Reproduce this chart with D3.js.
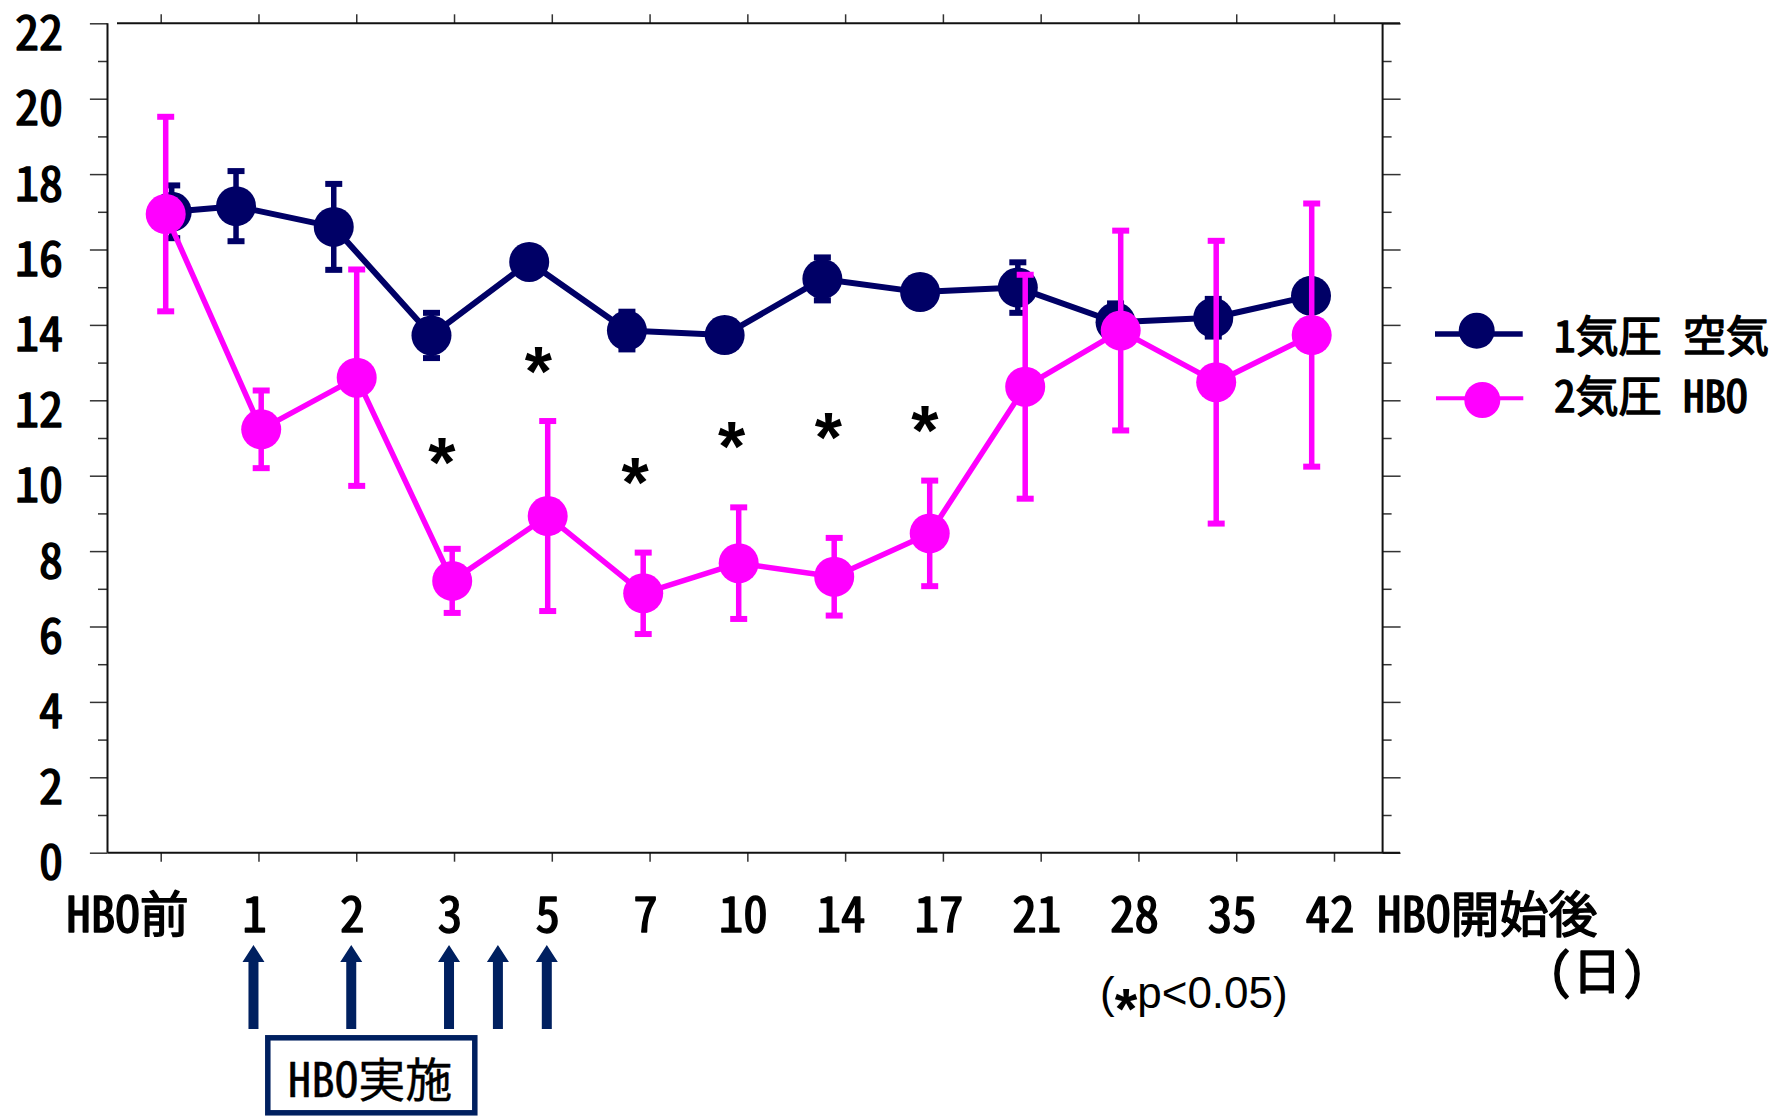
<!DOCTYPE html>
<html>
<head>
<meta charset="utf-8">
<script src="https://cdn.jsdelivr.net/npm/d3@7"></script>
<style>
  html, body { margin: 0; padding: 0; background: #fff; }
  svg { display: block; }
  .jp { font-family: "Noto Sans CJK JP", "Noto Sans CJK SC", sans-serif; font-feature-settings: "hwid" 1; fill: #000; font-weight: 400; stroke: #000; stroke-width: 1.5px; stroke-linejoin: round; }
  .jp.light { stroke-width: 0.4px; }
</style>
</head>
<body>
<svg id="chart" width="1777" height="1116"></svg>
<script>
// ---- data -------------------------------------------------------------
const categories = ["HBO前", "1", "2", "3", "5", "7", "10", "14", "17", "21", "28", "35", "42"];

// 1 atm air group: mean and SD
const airMean = [17.0, 17.15, 16.6, 13.72, 15.67, 13.85, 13.73, 15.22, 14.87, 14.99, 14.07, 14.19, 14.77];
const airSD   = [0.7, 0.93, 1.14, 0.6, 0.3, 0.5, 0.3, 0.57, 0.3, 0.67, 0.5, 0.5, 0.4];

// 2 atm HBO group: mean and SD
const hboMean = [16.94, 11.23, 12.6, 7.21, 8.93, 6.88, 7.68, 7.32, 8.47, 12.36, 13.85, 12.48, 13.73];
const hboSD   = [2.58, 1.03, 2.87, 0.85, 2.52, 1.08, 1.48, 1.03, 1.4, 2.97, 2.65, 3.75, 3.49];

const yTicks      = d3.range(0, 23, 2);
const yMinorTicks = d3.range(1, 22, 2);

// significant differences (*p<0.05) and the level where each star sits
const sigDays   = ["3", "5", "7", "10", "14", "17"];
const sigLevels = [10.76, 13.15, 10.23, 11.16, 11.4, 11.61];

// days on which HBO was given
const hboDays = [1, 2, 3, 4, 5];

const seriesNames = ["1気圧\u2002空気", "2気圧\u2002HBO"];
const seriesColors = ["#000066", "#ff00ff"];

// ---- scales -----------------------------------------------------------
const svg = d3.select("#chart");

const plot = { left: 107.5, right: 1382.6, top: 23.3, bottom: 852.7 };

const y = d3.scaleLinear().domain([0, 22]).range([plot.bottom, plot.top]);

// category ticks along the day axis
const xAxisScale = d3.scalePoint().domain(categories).range([160.7, 1334]);
// marker positions of each group
const xHbo = d3.scalePoint().domain(categories).range([165.7, 1311.7]);
const xAirBase = d3.scalePoint().domain(categories).range([138.3, 1311]);
// the pre-treatment air marker sits just behind the HBO marker
const xAir = (c, i) => i === 0 ? xHbo(c) + 6 : xAirBase(c);

// treatment days mapped onto the (non-uniform) day axis
const dayScale = d3.scaleLinear()
  .domain([1, 2, 3, 5])
  .range(["1", "2", "3", "5"].map(c => xAxisScale(c) - 5));

// ---- axes -------------------------------------------------------------
function styleTicks(g) {
  g.select(".domain").remove();
  g.selectAll(".tick line").attr("stroke", "#333").attr("stroke-width", 1.5);
}

// left axis: major ticks with labels
const leftMajor = svg.append("g")
  .attr("transform", `translate(${plot.left},0)`)
  .call(d3.axisLeft(y).tickValues(yTicks).tickSize(17.6).tickPadding(27).tickFormat(d3.format("d")));
styleTicks(leftMajor);
leftMajor.attr("font-family", null).attr("font-size", null);
leftMajor.selectAll(".tick text")
  .attr("class", "jp")
  .attr("dy", "0.54em")
  .style("font-size", "48px");

svg.append("g")
  .attr("transform", `translate(${plot.left},0)`)
  .call(d3.axisLeft(y).tickValues(yMinorTicks).tickSize(9.5).tickFormat(""))
  .call(styleTicks);

// right axis
svg.append("g")
  .attr("transform", `translate(${plot.right},0)`)
  .call(d3.axisRight(y).tickValues(yTicks).tickSize(18).tickFormat(""))
  .call(styleTicks);
svg.append("g")
  .attr("transform", `translate(${plot.right},0)`)
  .call(d3.axisRight(y).tickValues(yMinorTicks).tickSize(9).tickFormat(""))
  .call(styleTicks);

// bottom and top category ticks
svg.append("g")
  .attr("transform", `translate(0,${plot.bottom})`)
  .call(d3.axisBottom(xAxisScale).tickSize(9).tickFormat(""))
  .call(styleTicks);
svg.append("g")
  .attr("transform", `translate(0,${plot.top})`)
  .call(d3.axisTop(xAxisScale).tickSize(9).tickFormat(""))
  .call(styleTicks);

// frame lines
const frame = svg.append("g").attr("stroke", "#111").attr("stroke-width", 2);
frame.append("line").attr("x1", plot.left).attr("x2", plot.left).attr("y1", y(22)).attr("y2", y(0));
frame.append("line").attr("x1", plot.right).attr("x2", plot.right).attr("y1", y(22)).attr("y2", y(0));
frame.append("line").attr("x1", plot.left).attr("x2", 1400).attr("y1", y(0)).attr("y2", y(0));
frame.append("line").attr("x1", 117).attr("x2", 1400).attr("y1", y(22)).attr("y2", y(22));

// category labels
const labelY = 932;
svg.append("g").selectAll("text")
  .data(categories)
  .join("text")
  .attr("class", "jp")
  .attr("font-size", 49)
  .attr("x", (d, i) => i === 0 ? xAxisScale(d) + 28 : xAxisScale(d) - 4)
  .attr("y", labelY)
  .attr("text-anchor", (d, i) => i === 0 ? "end" : "middle")
  .text(d => d);

svg.append("text")
  .attr("class", "jp")
  .attr("font-size", 49)
  .attr("x", 1377)
  .attr("y", labelY)
  .text("HBO開始後");

svg.append("text")
  .attr("class", "jp")
  .attr("font-size", 49)
  .attr("x", 1597)
  .attr("y", 989)
  .attr("text-anchor", "middle")
  .text("（日）");

// significance note
const note = svg.append("text")
  .attr("font-family", '"Liberation Sans", Arial, sans-serif')
  .attr("font-size", 44)
  .attr("x", 1100)
  .attr("y", 1008);
note.append("tspan").text("(");
note.append("tspan").attr("font-weight", "bold").attr("font-size", 58).attr("dy", 21).text("*");
note.append("tspan").attr("dy", -21).text("p<0.05)");

// ---- series -----------------------------------------------------------
function drawSeries(mean, sd, xf, color, lineW) {
  const g = svg.append("g");
  const pts = categories.map((c, i) => ({ x: xf(c, i), m: mean[i], s: sd[i] }));

  g.append("path")
    .datum(pts)
    .attr("fill", "none")
    .attr("stroke", color)
    .attr("stroke-width", lineW)
    .attr("stroke-linejoin", "round")
    .attr("d", d3.line().x(d => d.x).y(d => y(d.m)));

  const eb = g.append("g").attr("stroke", color);
  eb.selectAll("line.stem")
    .data(pts)
    .join("line")
    .attr("class", "stem")
    .attr("stroke-width", 5.5)
    .attr("x1", d => d.x).attr("x2", d => d.x)
    .attr("y1", d => y(d.m + d.s)).attr("y2", d => y(d.m - d.s));
  eb.selectAll("line.capTop")
    .data(pts)
    .join("line")
    .attr("class", "capTop")
    .attr("stroke-width", 6)
    .attr("x1", d => d.x - 8.5).attr("x2", d => d.x + 8.5)
    .attr("y1", d => y(d.m + d.s)).attr("y2", d => y(d.m + d.s));
  eb.selectAll("line.capBot")
    .data(pts)
    .join("line")
    .attr("class", "capBot")
    .attr("stroke-width", 6)
    .attr("x1", d => d.x - 8.5).attr("x2", d => d.x + 8.5)
    .attr("y1", d => y(d.m - d.s)).attr("y2", d => y(d.m - d.s));

  g.selectAll("circle")
    .data(pts)
    .join("circle")
    .attr("cx", d => d.x)
    .attr("cy", d => y(d.m))
    .attr("r", 20)
    .attr("fill", color);
}

drawSeries(airMean, airSD, xAir, seriesColors[0], 6);
drawSeries(hboMean, hboSD, (c, i) => xHbo(c), seriesColors[1], 5.5);

// significance stars, midway between the two groups' markers
svg.append("g").selectAll("text")
  .data(sigDays)
  .join("text")
  .attr("font-family", '"Liberation Sans", Arial, sans-serif')
  .attr("font-weight", "bold")
  .attr("font-size", 70)
  .attr("text-anchor", "middle")
  .attr("x", d => {
    const i = categories.indexOf(d);
    return (xAir(d, i) + xHbo(d)) / 2;
  })
  .attr("y", (d, i) => y(sigLevels[i]) + 39.5)
  .text("*");

// ---- legend -----------------------------------------------------------
const legend = svg.append("g");
const legendRows = [
  { lineY: 334, dotX: 1476.7, dotY: 330.7, x1: 1435, x2: 1522.7, w: 5.3, textY: 351.5 },
  { lineY: 398.3, dotX: 1482.3, dotY: 400, x1: 1436, x2: 1523.3, w: 4, textY: 411.5 }
];
legendRows.forEach((r, i) => {
  legend.append("line")
    .attr("x1", r.x1).attr("x2", r.x2).attr("y1", r.lineY).attr("y2", r.lineY)
    .attr("stroke", seriesColors[i]).attr("stroke-width", r.w);
  legend.append("circle")
    .attr("cx", r.dotX).attr("cy", r.dotY).attr("r", 18).attr("fill", seriesColors[i]);
  legend.append("text")
    .attr("class", "jp")
    .attr("font-size", 43)
    .attr("x", 1554)
    .attr("y", r.textY)
    .text(seriesNames[i]);
});

// ---- treatment arrows and box ------------------------------------------
const arrowColor = "#002060";
const tipY = 945, baseY = 1029, headH = 17, headW = 11, shaftW = 5;
svg.append("g").selectAll("path")
  .data(hboDays)
  .join("path")
  .attr("fill", arrowColor)
  .attr("d", d => {
    const x = dayScale(d);
    return `M${x},${tipY} L${x + headW},${tipY + headH} L${x + shaftW},${tipY + headH} ` +
           `L${x + shaftW},${baseY} L${x - shaftW},${baseY} L${x - shaftW},${tipY + headH} ` +
           `L${x - headW},${tipY + headH} Z`;
  });

svg.append("rect")
  .attr("x", 267.8).attr("y", 1037.8)
  .attr("width", 207).attr("height", 75)
  .attr("fill", "#fff")
  .attr("stroke", arrowColor)
  .attr("stroke-width", 5.5);

svg.append("text")
  .attr("class", "jp light")
  .attr("font-size", 47)
  .attr("x", 370)
  .attr("y", 1097)
  .attr("text-anchor", "middle")
  .text("HBO実施");
</script>
</body>
</html>
